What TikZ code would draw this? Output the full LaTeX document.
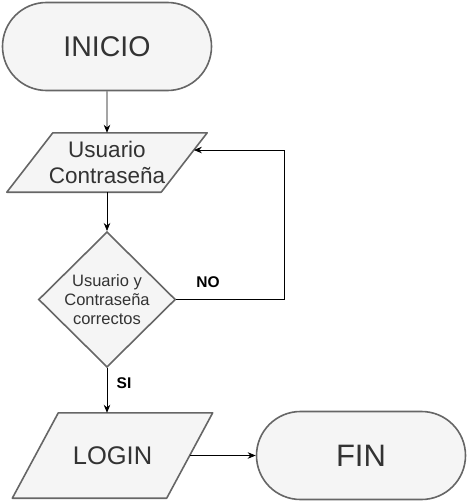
\documentclass[tikz,border=0pt]{standalone}
\usepackage{fontspec}
\setmainfont{Liberation Sans}
\usetikzlibrary{shapes.geometric,shapes.misc,arrows.meta,calc,backgrounds}
\definecolor{boxFill}{HTML}{F5F5F5}
\definecolor{boxLine}{HTML}{666666}
\definecolor{boxText}{HTML}{333333}

\begin{document}
\begin{tikzpicture}[x=1pt, y=-1pt,
  base/.style={draw=boxLine, fill=boxFill, text=boxText, line width=1.6pt, inner sep=0pt, align=center},
  terminal/.style={base, rounded rectangle, minimum width=209pt, minimum height=88pt},
  inout/.style={text=boxText, inner sep=0pt, align=center, minimum width=154pt, minimum height=#1},
  skew/.style={draw=boxLine, fill=boxFill, line width=1.6pt, line join=round},
  decision/.style={base, diamond, minimum width=137pt, minimum height=129pt},
  arrow/.style={-{Stealth[length=8pt,width=6.5pt]}, line width=0.8pt},
  tag/.style={font=\fontsize{15.5}{18}\selectfont\bfseries}]
  \useasboundingbox (0,0) rectangle (468,503);
  \node[terminal, font=\fontsize{28.5}{32}\selectfont] (inicio) at (107,46.5) {INICIO};
  \node[inout=59pt, font=\fontsize{22.5}{26}\selectfont] (datos) at (107,162.5) {Usuario\\Contraseña};
  \node[decision, font=\fontsize{16.5}{19}\selectfont] (valida) at (107,299.5) {Usuario y\\Contraseña\\correctos};
  \node[inout=85pt, font=\fontsize{25.5}{30}\selectfont] (login) at (112.5,455.5) {LOGIN};
  \node[terminal, font=\fontsize{31}{36}\selectfont] (fin) at (361,455.5) {FIN};
  \begin{scope}[on background layer]
    \foreach \n in {datos,login}
      \draw[skew] ([xshift=23]\n.north west) -- ([xshift=23]\n.north east)
        -- ([xshift=-23]\n.south east) -- ([xshift=-23]\n.south west) -- cycle;
  \end{scope}
  \coordinate (reintento) at ($([xshift=23]datos.north east)!.29!([xshift=-23]datos.south east)$);
  \draw[arrow] (inicio) -- (datos);
  \draw[arrow] (datos.south) -- (valida.north);
  \draw[arrow] (valida.east) -- ++(108,0) |- (reintento);
  \draw[arrow] (valida.south) -- (valida.south |- login.north);
  \draw[arrow] (login.east) -- (fin.west);
  \node[tag] (no) at (208,282) {NO};
  \node[tag] (si) at (124,383) {SI};
\end{tikzpicture}
\end{document}
